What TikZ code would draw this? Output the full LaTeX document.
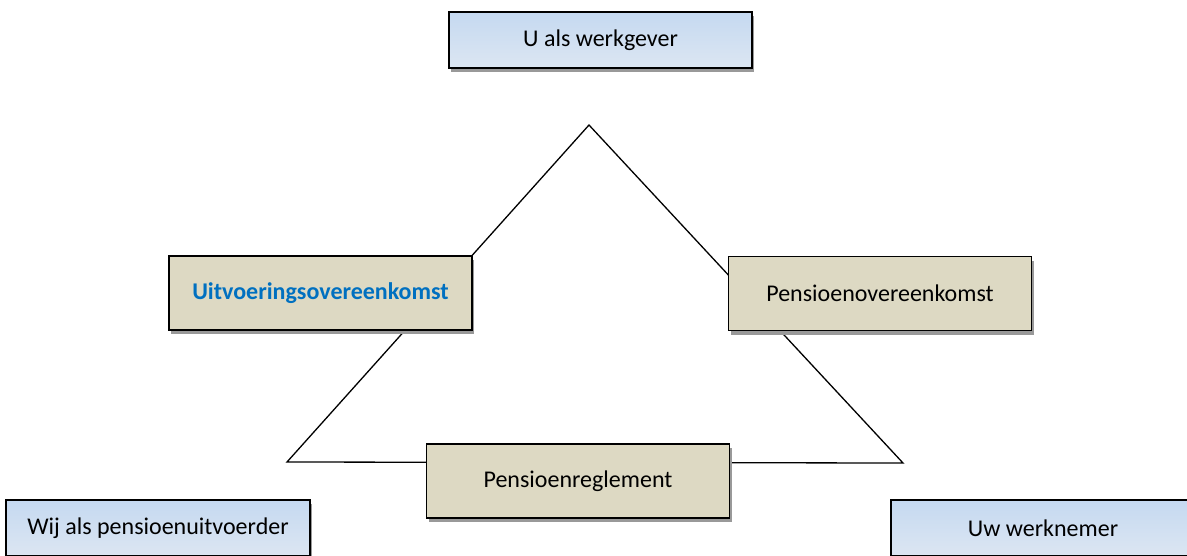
\documentclass[tikz,border=0pt]{standalone}
\usepackage{fontspec}
\setmainfont{Carlito}
\usetikzlibrary{shadows}
\definecolor{tan}{RGB}{221,217,195}
\definecolor{lichtblauwboven}{RGB}{197,217,241}
\definecolor{lichtblauwonder}{RGB}{220,230,242}
\definecolor{tekstblauw}{RGB}{0,112,192}
\tikzset{partij/.style={draw=black,line width=1.5pt,top color=lichtblauwboven,bottom color=lichtblauwonder,
        minimum width=303pt,minimum height=56pt,outer sep=0pt,
        drop shadow={shadow xshift=2pt,shadow yshift=-4pt,fill=black!40,opacity=1},
        font=\fontsize{24}{28}\selectfont},
    overeenkomst/.style={draw=black,line width=1.5pt,fill=tan,
        minimum width=303pt,minimum height=74pt,outer sep=0pt,
        drop shadow={shadow xshift=2pt,shadow yshift=-4pt,fill=black!40,opacity=1},
        font=\fontsize{24}{28}\selectfont}}

\begin{document}
\begin{tikzpicture}[x=1pt,y=-1pt]
      \useasboundingbox (0,0) rectangle (1187,555);
      % driehoek achter de vakken
      \coordinate (top) at (589,125);
      \coordinate (linkshoek) at (287,462);
      \coordinate (rechtshoek) at (903,463);
      \draw[line width=1.3pt] (linkshoek) -- (top) -- (rechtshoek) -- cycle;
      \node[partij] (werkgever) at (600.5,40) {U als werkgever};
      \node[overeenkomst,text=tekstblauw,font=\fontsize{24}{28}\selectfont\bfseries] (uitvoering) at (320.5,293) {Uitvoeringsovereenkomst};
      \node[overeenkomst] (pensioenov) at (880,293.5) {Pensioenovereenkomst};
      \node[overeenkomst] (reglement) at (578,481) {Pensioenreglement};
      \node[partij,minimum width=304pt] (uitvoerder) at (158,528) {Wij als pensioenuitvoerder};
      \node[partij,minimum width=304pt] (werknemer) at (1043,528) {Uw werknemer};
\end{tikzpicture}
\end{document}
